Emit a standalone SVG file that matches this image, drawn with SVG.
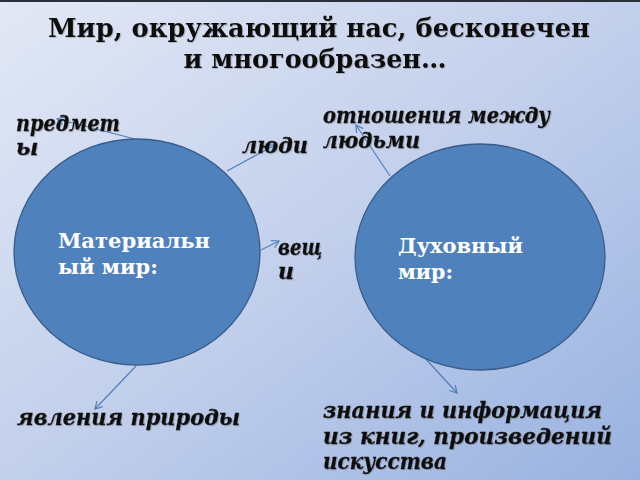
<svg xmlns="http://www.w3.org/2000/svg" width="640" height="480" viewBox="0 0 640 480">
<defs>
<linearGradient id="bg" x1="0" y1="0" x2="1" y2="1">
<stop offset="0" stop-color="#e2e8f5"/>
<stop offset="0.5" stop-color="#c3d0ec"/>
<stop offset="1" stop-color="#98b2e0"/>
</linearGradient>
<marker id="ah" markerWidth="10" markerHeight="10" refX="8" refY="5" orient="auto" markerUnits="userSpaceOnUse">
<path d="M1,1 L8,5 L1,9" fill="none" stroke="#4f81bd" stroke-width="1.2"/>
</marker>
<filter id="sh" x="-5%" y="-20%" width="110%" height="140%">
<feDropShadow dx="1" dy="1" stdDeviation="0.6" flood-color="#555" flood-opacity="0.3"/>
</filter>
</defs>
<style>
.title{font-family:"DejaVu Serif Condensed","DejaVu Serif",serif;font-weight:bold;font-size:26px;fill:#111;text-anchor:middle}
.lbl{font-family:"DejaVu Serif",serif;font-weight:bold;font-style:italic;font-size:22px;fill:#111;stroke:#111;stroke-width:0.3}
.cl{font-family:"DejaVu Serif",serif;font-weight:bold;font-size:20px;fill:#fff}
.circ{fill:#4f81bd;stroke:#385d8a;stroke-width:1.3}
.con{stroke:#4f81bd;stroke-width:1.2;fill:none;marker-end:url(#ah)}
</style>
<rect width="640" height="480" fill="url(#bg)"/>
<rect width="640" height="2" fill="#2a2f3a"/>
<g id="title" filter="url(#sh)">
<text class="title" x="319" y="37" textLength="542" lengthAdjust="spacingAndGlyphs">Мир, окружающий нас, бесконечен</text>
<text class="title" x="315" y="68" textLength="263" lengthAdjust="spacingAndGlyphs">и многообразен…</text>
</g>
<g id="connectors">
<line class="con" x1="135" y1="139" x2="57" y2="119"/>
<line class="con" x1="227" y1="171" x2="275" y2="145"/>
<line class="con" x1="261" y1="250" x2="279" y2="241"/>
<line class="con" x1="136" y1="366" x2="95" y2="409"/>
<line class="con" x1="390" y1="176" x2="356" y2="125"/>
<line class="con" x1="425" y1="358" x2="457" y2="393"/>
</g>
<g id="material">
<ellipse class="circ" cx="137" cy="252" rx="123" ry="113"/>
<text class="cl" x="58" y="248" textLength="152" lengthAdjust="spacingAndGlyphs">Материальн</text>
<text class="cl" x="58" y="274" textLength="100" lengthAdjust="spacingAndGlyphs">ый мир:</text>
</g>
<g id="spiritual">
<ellipse class="circ" cx="480" cy="257" rx="125" ry="113"/>
<text class="cl" x="398" y="253" textLength="125" lengthAdjust="spacingAndGlyphs">Духовный</text>
<text class="cl" x="398" y="279" textLength="55" lengthAdjust="spacingAndGlyphs">мир:</text>
</g>
<g filter="url(#sh)">
<g id="predmety">
<text class="lbl" x="16" y="131" textLength="104" lengthAdjust="spacingAndGlyphs">предмет</text>
<text class="lbl" x="16" y="155">ы</text>
</g>
<g id="lyudi"><text class="lbl" x="242" y="153" textLength="66" lengthAdjust="spacingAndGlyphs">люди</text></g>
<g id="veshchi">
<text class="lbl" x="278" y="255" textLength="44" lengthAdjust="spacingAndGlyphs">вещ</text>
<text class="lbl" x="278" y="279">и</text>
</g>
<g id="yavleniya"><text class="lbl" x="17" y="425" textLength="223" lengthAdjust="spacingAndGlyphs">явления природы</text></g>
<g id="otnosheniya">
<text class="lbl" x="323" y="123" textLength="227" lengthAdjust="spacingAndGlyphs">отношения между</text>
<text class="lbl" x="323" y="148" textLength="97" lengthAdjust="spacingAndGlyphs">людьми</text>
</g>
<g id="znaniya">
<text class="lbl" x="323" y="418" textLength="279" lengthAdjust="spacingAndGlyphs">знания и информация</text>
<text class="lbl" x="323" y="444" textLength="289" lengthAdjust="spacingAndGlyphs">из книг, произведений</text>
<text class="lbl" x="323" y="469" textLength="124" lengthAdjust="spacingAndGlyphs">искусства</text>
</g>
</g>
</svg>
